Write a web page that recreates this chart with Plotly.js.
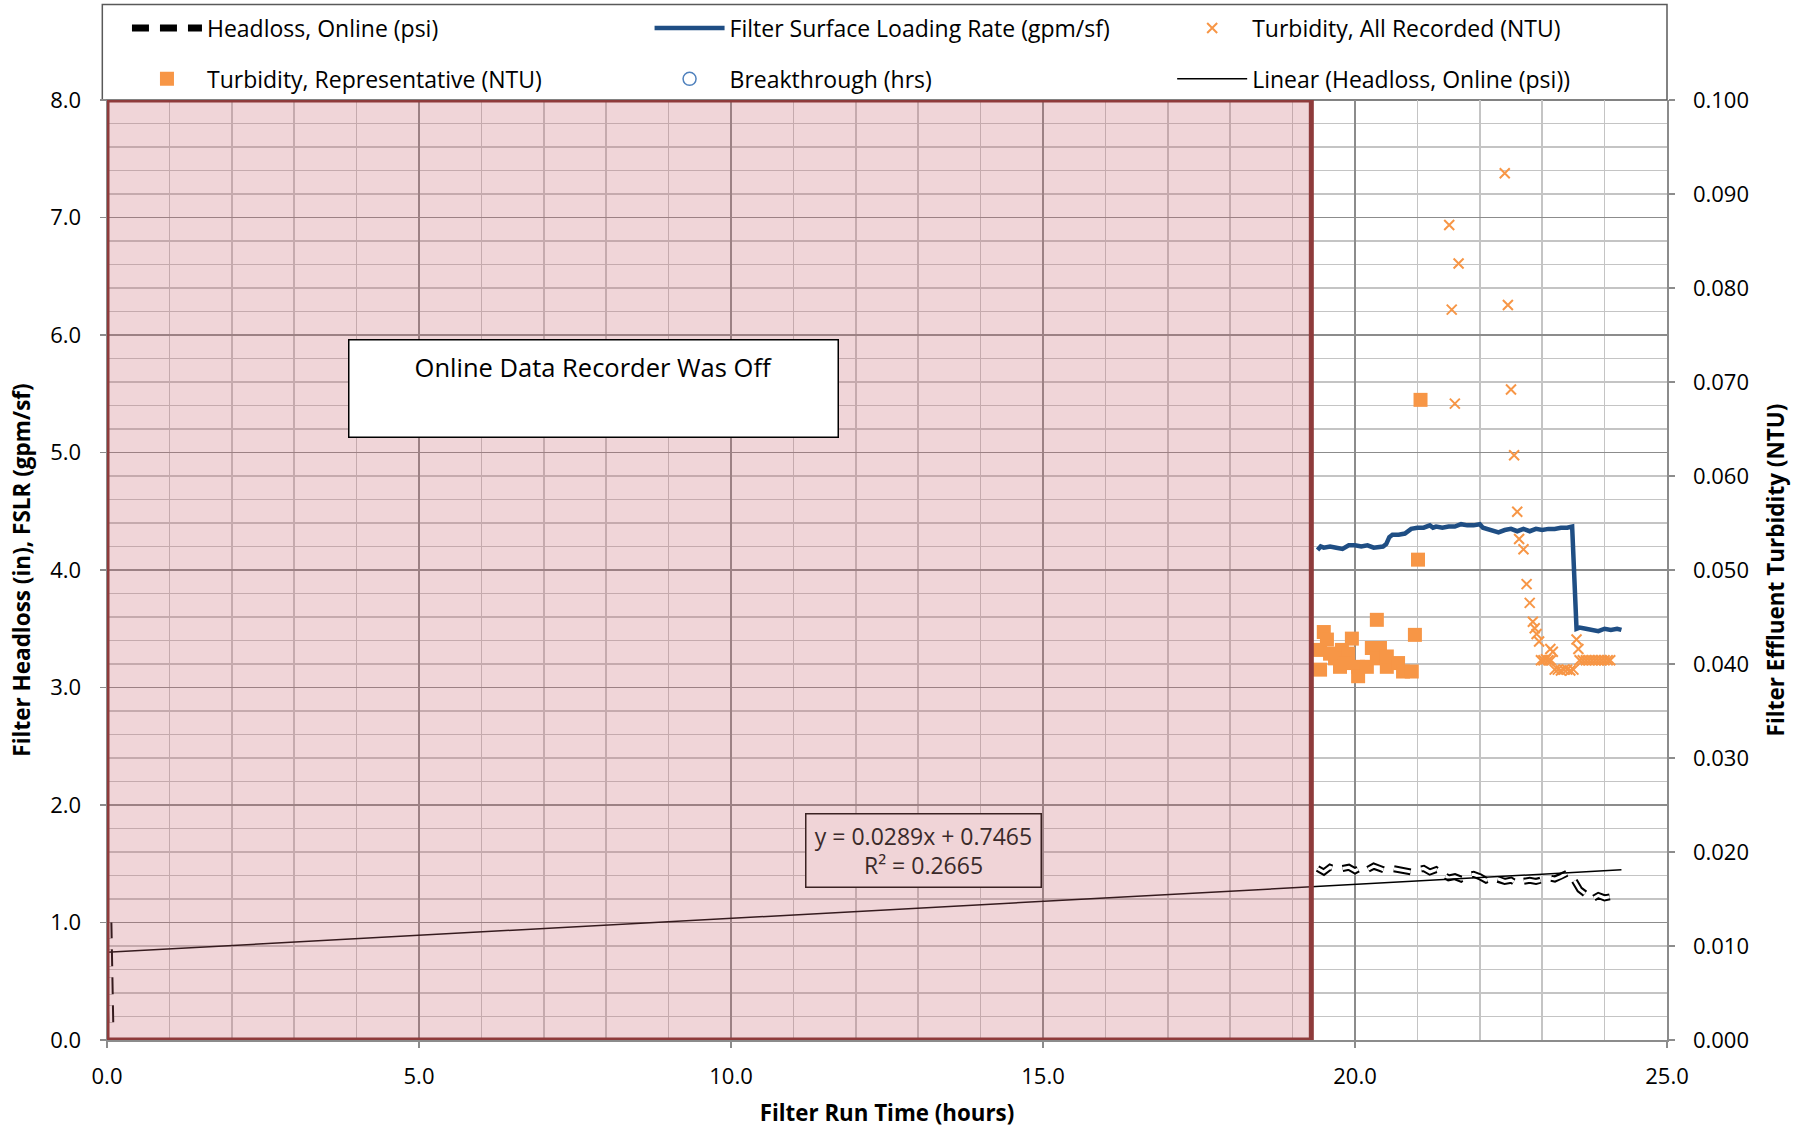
<!DOCTYPE html>
<html>
<head>
<meta charset="utf-8">
<script src="https://cdn.plot.ly/plotly-3.0.1.min.js"></script>
<style>html,body{margin:0;padding:0;background:#fff;}#chart{width:1813px;height:1130px;}</style>
</head>
<body>
<div id="chart"></div>
<script>
// ---- Data ----
// Headloss, Online (psi)
var headlossX = [0.06, 0.05, 0.04, 0.03, null,
  19.4, 19.5, 19.6, 19.7, 19.8, 19.9, 20.0, 20.1, 20.2, 20.3, 20.4, 20.5, 20.6, 20.7, 20.8, 20.9,
  21.0, 21.1, 21.2, 21.3, 21.4, 21.5, 21.6, 21.7, 21.8, 21.9, 22.0, 22.1, 22.2, 22.3, 22.4, 22.5,
  22.6, 22.7, 22.8, 22.9, 23.0, 23.1, 23.2, 23.3, 23.4, 23.5, 23.6, 23.7, 23.8, 23.9, 24.0, 24.1];
var headlossY = [0.15, 0.45, 0.75, 1.0, null,
  1.46, 1.43, 1.47, 1.45, 1.46, 1.47, 1.44, 1.47, 1.45, 1.48, 1.46, 1.44, 1.46, 1.45, 1.44, 1.43,
  1.45, 1.46, 1.43, 1.45, 1.41, 1.38, 1.39, 1.37, 1.40, 1.41, 1.39, 1.36, 1.38, 1.37, 1.35, 1.36,
  1.33, 1.35, 1.36, 1.35, 1.36, 1.38, 1.37, 1.39, 1.42, 1.37, 1.28, 1.24, 1.20, 1.23, 1.21, 1.22];

// Filter Surface Loading Rate (gpm/sf)
var fslrX = [19.40, 19.45, 19.5, 19.6, 19.7, 19.8, 19.9, 20.0, 20.1, 20.2, 20.3, 20.4, 20.45, 20.5,
  20.55, 20.6, 20.7, 20.8, 20.9, 21.0, 21.1, 21.2, 21.25, 21.3, 21.4, 21.5, 21.6, 21.7, 21.8, 21.9,
  22.0, 22.05, 22.1, 22.2, 22.3, 22.4, 22.5, 22.6, 22.7, 22.8, 22.9, 23.0, 23.1, 23.2, 23.3, 23.4,
  23.48, 23.55, 23.6, 23.7, 23.8, 23.9, 24.0, 24.1, 24.2, 24.27];
var fslrY = [4.17, 4.20, 4.19, 4.20, 4.19, 4.18, 4.21, 4.21, 4.20, 4.21, 4.19, 4.20, 4.20, 4.22,
  4.28, 4.30, 4.30, 4.31, 4.35, 4.36, 4.36, 4.38, 4.36, 4.37, 4.36, 4.37, 4.37, 4.39, 4.38, 4.38,
  4.39, 4.36, 4.35, 4.34, 4.32, 4.34, 4.35, 4.33, 4.35, 4.33, 4.35, 4.34, 4.35, 4.35, 4.36, 4.36,
  4.37, 3.50, 3.51, 3.50, 3.49, 3.48, 3.50, 3.49, 3.50, 3.49];

// Turbidity, All Recorded (NTU)
var turbAllX = [22.40, 21.51, 21.66, 21.55, 22.45, 22.50, 21.60, 22.55, 22.60, 22.63, 22.70, 22.75,
  22.80, 22.85, 22.88, 22.91, 22.95,
  22.98, 23.02, 23.06, 23.10, 23.14, 23.13, 23.17,
  23.20, 23.25, 23.30, 23.35, 23.40, 23.45, 23.50,
  23.55, 23.58,
  23.60, 23.65, 23.70, 23.75, 23.80, 23.85, 23.90, 23.95, 24.00, 24.05, 24.09];
var turbAllY = [0.0922, 0.0867, 0.0826, 0.0777, 0.0782, 0.0692, 0.0677, 0.0622, 0.0562, 0.0533, 0.0522, 0.0485,
  0.0465, 0.0445, 0.0438, 0.0432, 0.0424,
  0.0404, 0.0404, 0.0405, 0.0404, 0.0404, 0.0416, 0.0413,
  0.0394, 0.0394, 0.0393, 0.0394, 0.0394, 0.0393, 0.0394,
  0.0426, 0.0416,
  0.0404, 0.0404, 0.0404, 0.0404, 0.0404, 0.0404, 0.0404, 0.0404, 0.0404, 0.0404, 0.0404];

// Turbidity, Representative (NTU)
var turbRepX = [21.05, 21.01, 20.35, 20.96, 19.50, 19.55, 19.95, 19.44, 19.44, 19.79, 19.68, 19.76, 19.89,
  20.05, 20.05, 20.19, 20.27, 20.40, 20.35, 20.51, 20.51, 20.69, 20.77, 20.91, 19.60, 19.84];
var turbRepY = [0.0681, 0.0511, 0.0447, 0.0431, 0.0434, 0.0426, 0.0427, 0.0415, 0.0394, 0.0415, 0.0406, 0.0397, 0.0411,
  0.0397, 0.0387, 0.0397, 0.0417, 0.0417, 0.0406, 0.0397, 0.0408, 0.0401, 0.0392, 0.0392, 0.0411, 0.0401];

// Breakthrough (hrs) - no point visible in chart
var breakX = [null];
var breakY = [null];

// Linear trend of headloss
var trendSlope = 0.0289;
var trendIntercept = 0.7465;
var trendR2 = 0.2665;
var trendRangeX = [0, 24.27];

// Off-period of online recorder (hours)
var offStart = 0;
var offEnd = 19.3;

// Axis tick labels
var xTicks = [0, 5, 10, 15, 20, 25];

// ---- Build ----
var FONT = 'Open Sans, Liberation Sans, sans-serif';
var trendY = trendRangeX.map(function (x) { return trendSlope * x + trendIntercept; });

var traces = [
  {x: headlossX, y: headlossY, name: 'Headloss, Online (psi)', mode: 'lines', legend: 'legend', legendgroup: 'g1',
   line: {color: '#000000', width: 7, dash: '17px,11px'}, connectgaps: false},
  {x: headlossX, y: headlossY, name: 'Headloss inner', mode: 'lines', showlegend: false, legendgroup: 'g1',
   line: {color: '#ffffff', width: 3, dash: '17px,11px'}, connectgaps: false, hoverinfo: 'skip'},
  {x: fslrX, y: fslrY, name: 'Filter Surface Loading Rate (gpm/sf)', mode: 'lines', legend: 'legend2', legendgroup: 'g2',
   line: {color: '#1F4E84', width: 4.5}},
  {x: turbAllX, y: turbAllY, yaxis: 'y2', name: 'Turbidity, All Recorded (NTU)', mode: 'markers', legend: 'legend3', legendgroup: 'g3',
   marker: {symbol: 'x-thin-open', size: 10, color: '#F79646', line: {color: '#F79646', width: 2}}},
  {x: turbRepX, y: turbRepY, yaxis: 'y2', name: 'Turbidity, Representative (NTU)', mode: 'markers', legend: 'legend', legendgroup: 'g4',
   marker: {symbol: 'square', size: 14, color: '#F79646'}},
  {x: breakX, y: breakY, name: 'Breakthrough (hrs)', mode: 'markers', legend: 'legend2', legendgroup: 'g5',
   marker: {symbol: 'circle-open', size: 13, color: '#4F81BD', line: {color: '#4F81BD', width: 1.5}}},
  {x: trendRangeX, y: trendY, name: 'Linear (Headloss, Online (psi))', mode: 'lines', legend: 'legend3', legendgroup: 'g6',
   line: {color: '#000000', width: 1.5}}
];

var legendCommon = {
  orientation: 'v', xanchor: 'left', yanchor: 'top', y: 1.0995, traceorder: 'grouped', tracegroupgap: 18,
  bgcolor: 'rgba(0,0,0,0)', borderwidth: 0,
  font: {family: FONT, size: 23, color: '#000'}, itemwidth: 70
};

var layout = {
  width: 1813, height: 1130,
  margin: {l: 107, r: 146, t: 100, b: 90, autoexpand: false},
  paper_bgcolor: '#ffffff', plot_bgcolor: '#ffffff',
  font: {family: FONT, size: 22, color: '#000'},
  showlegend: true,
  legend: Object.assign({}, legendCommon, {x: 0.0128}),
  legend2: Object.assign({}, legendCommon, {x: 0.3478}),
  legend3: Object.assign({}, legendCommon, {x: 0.6828}),
  xaxis: {
    range: [0, 25], tickvals: xTicks, tickformat: '.1f',
    showgrid: true, gridcolor: '#8C8C8C', gridwidth: 1.5,
    minor: {dtick: 1, showgrid: true, gridcolor: '#C4C4C4', gridwidth: 1.5},
    showline: true, linecolor: '#8C8C8C', linewidth: 1.5,
    ticks: 'outside', ticklen: 6, tickcolor: '#8C8C8C', tickwidth: 1.5,
    ticklabelstandoff: 10, zeroline: false,
    tickfont: {family: FONT, size: 22, color: '#000'},
    title: {text: 'Filter Run Time (hours)', font: {family: FONT, size: 22.3, weight: 'bold', color: '#000'}, standoff: 16}
  },
  yaxis: {
    range: [0, 8], dtick: 1, tickformat: '.1f',
    showgrid: true, gridcolor: '#8C8C8C', gridwidth: 1.5,
    minor: {dtick: 0.2, showgrid: true, gridcolor: '#C4C4C4', gridwidth: 1.5},
    showline: true, linecolor: '#8C8C8C', linewidth: 1.5,
    ticks: 'outside', ticklen: 6, tickcolor: '#8C8C8C', tickwidth: 1.5,
    ticklabelstandoff: 14, zeroline: false,
    tickfont: {family: FONT, size: 22, color: '#000'},
    title: {text: 'Filter Headloss (in), FSLR (gpm/sf)', font: {family: FONT, size: 22.5, weight: 'bold', color: '#000'}, standoff: 13}
  },
  yaxis2: {
    range: [0, 0.1], dtick: 0.01, tickformat: '.3f', overlaying: 'y', side: 'right',
    showgrid: false, zeroline: false,
    showline: true, linecolor: '#8C8C8C', linewidth: 1.5,
    ticks: 'outside', ticklen: 6, tickcolor: '#8C8C8C', tickwidth: 1.5,
    ticklabelstandoff: 14,
    tickfont: {family: FONT, size: 22, color: '#000'},
    title: {text: 'Filter Effluent Turbidity (NTU)', font: {family: FONT, size: 22.5, weight: 'bold', color: '#000'}, standoff: 20}
  },
  shapes: [
    // legend frame
    {type: 'rect', xref: 'paper', yref: 'paper', x0: -0.003, x1: 1.0, y0: 1.0, y1: 1.1015,
     line: {color: '#595959', width: 1.5}, fillcolor: '#ffffff', layer: 'below'},
    // recorder-off region
    {type: 'rect', xref: 'x', yref: 'y', x0: offStart, x1: offEnd, y0: 0, y1: 8,
     fillcolor: 'rgba(200,100,110,0.27)', line: {width: 0}, layer: 'above'},
    {type: 'rect', xref: 'x', yref: 'y', x0: offStart, x1: offEnd, y0: 0, y1: 8,
     fillcolor: 'rgba(0,0,0,0)', line: {color: '#8E3B3B', width: 5}, layer: 'above'}
  ],
  annotations: [
    {xref: 'x', yref: 'y', x: 7.8, y: 5.966, xanchor: 'center', yanchor: 'top',
     text: 'Online Data Recorder Was Off', showarrow: false,
     font: {family: FONT, size: 25.5, color: '#000'},
     width: 470, height: 78, valign: 'top', align: 'center',
     bgcolor: '#ffffff', bordercolor: '#000000', borderwidth: 1.5, borderpad: 9},
    {xref: 'x', yref: 'y', x: 13.08, y: 1.617, xanchor: 'center', yanchor: 'middle',
     text: 'y = ' + trendSlope.toFixed(4) + 'x + ' + trendIntercept.toFixed(4) + '<br>R² = ' + trendR2.toFixed(4),
     showarrow: false, font: {family: FONT, size: 23, color: '#3a2a2a'},
     width: 222, height: 60, align: 'center', valign: 'middle',
     bgcolor: '#F0D4D7', bordercolor: '#3a2222', borderwidth: 1.5, borderpad: 6}
  ]
};

Plotly.newPlot('chart', traces, layout, {displayModeBar: false, staticPlot: true});
</script>
</body>
</html>
